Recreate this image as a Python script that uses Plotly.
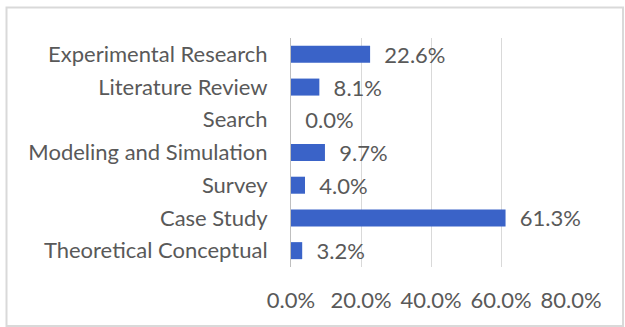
import plotly.graph_objects as go

# Research method shares (fraction of studies)
categories = [
    "Theoretical Conceptual",
    "Case Study",
    "Survey",
    "Modeling and Simulation",
    "Search",
    "Literature Review",
    "Experimental Research",
]
shares = [0.032, 0.613, 0.040, 0.097, 0.000, 0.081, 0.226]
tick_values = [0.0, 0.2, 0.4, 0.6, 0.8]

W, H = 625, 327
ML, MR, MT, MB = 291, 54, 38, 60
PW, PH = W - ML - MR, H - MT - MB

text_color = "#595959"
font_family = "Lato, Carlito, 'Liberation Sans', sans-serif"
FS = 22

fig = go.Figure(
    go.Bar(
        y=categories,
        x=shares,
        orientation="h",
        marker=dict(color="#3A63C8", line=dict(width=0)),
        text=[f"  {v * 100:.1f}%" for v in shares],
        textposition="outside",
        constraintext="none",
        textfont=dict(color=text_color, size=FS, family=font_family),
        cliponaxis=False,
    )
)

# outer chart border in pixel terms converted to paper coordinates
def px_x(p):
    return (p - ML) / PW


def px_y(p):
    return 1 - (p - MT) / PH


fig.add_shape(
    type="rect",
    xref="paper",
    yref="paper",
    x0=px_x(6.5),
    x1=px_x(623),
    y0=px_y(326),
    y1=px_y(7.5),
    line=dict(color="#d9d9d9", width=2),
    fillcolor="rgba(0,0,0,0)",
    layer="below",
)

fig.update_layout(
    width=W,
    height=H,
    margin=dict(l=ML, r=MR, t=MT, b=MB, pad=0),
    paper_bgcolor="white",
    plot_bgcolor="white",
    bargap=0.48,
    showlegend=False,
    font=dict(family=font_family, color=text_color, size=FS),
    xaxis=dict(
        range=[0, 0.8],
        tickvals=tick_values,
        ticktext=[f"{v * 100:.1f}%" for v in tick_values],
        showgrid=True,
        gridcolor="#d9d9d9",
        gridwidth=1,
        zeroline=False,
        showline=False,
        ticks="",
        ticklabelstandoff=18,
        tickfont=dict(size=FS, color=text_color),
    ),
    yaxis=dict(
        showgrid=False,
        showline=True,
        linecolor="#bfbfbf",
        linewidth=1,
        ticks="",
        ticklabelstandoff=18,
        tickfont=dict(size=FS, color=text_color),
    ),
)

fig.write_html("out.html")
